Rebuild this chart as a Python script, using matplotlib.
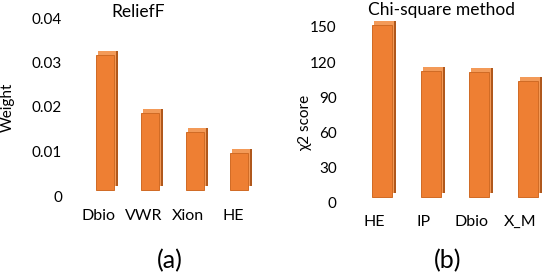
import matplotlib
matplotlib.use("Agg")
import matplotlib.pyplot as plt
from matplotlib.transforms import ScaledTranslation
import numpy as np

# ---- data ----
relief_labels = ["Dbio", "VWR", "Xion", "HE"]
relief_values = [0.0304, 0.0174, 0.0131, 0.0084]
relief_ticks = [0, 0.01, 0.02, 0.03, 0.04]
relief_ticklabels = ["0", "0.01", "0.02", "0.03", "0.04"]

chi_labels = ["HE", "IP", "Dbio", "X_M"]
chi_values = [147, 107.5, 106.5, 99]
chi_ticks = [0, 30, 60, 90, 120, 150]
chi_ticklabels = ["0", "30", "60", "90", "120", "150"]

FONT = "Lato"
plt.rcParams["font.family"] = [FONT, "DejaVu Sans"]

W, H = 543, 275
fig = plt.figure(figsize=(W / 100, H / 100), dpi=100)

FRONT = "#EE7F33"
SIDE = "#B0581C"
TOP = "#F39A58"


def axes_px(left, right, top, bottom):
    return fig.add_axes([left / W, (H - bottom) / H, (right - left) / W, (bottom - top) / H])


def bars3d(ax, values, width, lift=6, dx=4, dy=4):
    x = np.arange(len(values))
    base = ax.transData

    def tr(ox, oy):
        return base + ScaledTranslation(ox / 100, oy / 100, fig.dpi_scale_trans)

    b1 = ax.bar(x, values, width, color=SIDE, edgecolor="none", zorder=2, clip_on=False)
    for p in b1:
        p.set_transform(tr(dx, lift + dy))
    b2 = ax.bar(x, values, width, color=TOP, edgecolor="none", zorder=3, clip_on=False)
    for p in b2:
        p.set_transform(tr(dx * 0.5, lift + dy))
    b3 = ax.bar(x, values, width, color=FRONT, edgecolor="#D06A24", linewidth=0.7,
                zorder=4, clip_on=False)
    for p in b3:
        p.set_transform(tr(0, lift))


def style(ax, labels, ticks, ticklabels, xshift_px, ypad, xpad):
    for s in ax.spines.values():
        s.set_visible(False)
    ax.set_xticks(np.arange(len(labels)))
    ax.set_xticklabels(labels, fontsize=11.5, color="#000000")
    ax.set_yticks(ticks)
    ax.set_yticklabels(ticklabels, fontsize=11, color="#000000")
    ax.tick_params(axis="both", length=0)
    ax.tick_params(axis="y", pad=ypad)
    ax.tick_params(axis="x", pad=xpad)
    for lab in ax.get_xticklabels():
        lab.set_transform(lab.get_transform() + ScaledTranslation(xshift_px / 100, 0, fig.dpi_scale_trans))
    ax.patch.set_visible(False)


# ---- left: ReliefF ----
ax1 = axes_px(105 - 0.75 * 44.8, 105 + 3.55 * 44.8, 18, 196)
bars3d(ax1, relief_values, 0.40)
ax1.set_xlim(-0.75, 3.55)
ax1.set_ylim(0, 0.04)
style(ax1, relief_labels, relief_ticks, relief_ticklabels, -6.5, 6.8, 9)

# ---- right: Chi-square ----
ax2 = axes_px(382 - 0.75 * 48.7, 382 + 3.3 * 48.7, 27, 203)
bars3d(ax2, chi_values, 0.41)
ax2.set_xlim(-0.75, 3.3)
ax2.set_ylim(0, 150)
style(ax2, chi_labels, chi_ticks, chi_ticklabels, -7.5, 6.2, 8.5)

# ---- texts ----
fig.text(8 / W, 1 - 107 / H, "Weight", rotation=90, ha="center", va="center", fontsize=11)
fig.text(305 / W, 1 - 123 / H, "χ2 score", rotation=90, ha="center", va="center", fontsize=11)
fig.text(138 / W, 1 - 12 / H, "ReliefF", ha="center", va="center", fontsize=12.5)
fig.text(442 / W, 1 - 10 / H, "Chi-square method", ha="center", va="center", fontsize=12.5)
fig.text(170 / W, 1 - 261 / H, "(a)", ha="center", va="center", fontsize=18)
fig.text(448 / W, 1 - 261 / H, "(b)", ha="center", va="center", fontsize=18)

fig.savefig("out.png", dpi=100, facecolor="white")
